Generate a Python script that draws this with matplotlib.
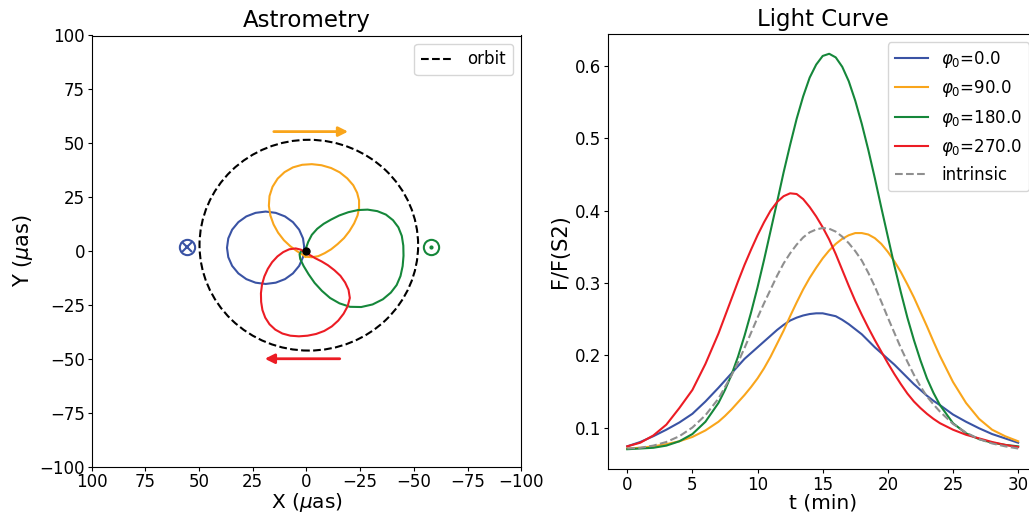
import matplotlib
matplotlib.use("Agg")
import matplotlib.pyplot as plt
from matplotlib.patches import Ellipse
from matplotlib.lines import Line2D

# ---------------- data ----------------
phases = ["0.0", "90.0", "180.0", "270.0"]
colors = ["#3A53A4", "#F9A51B", "#15873A", "#EC1C24"]
intrinsic_color = "#8F8F8F"

# astrometry loops (X, Y in micro-arcsec)
blue_x = [1, 1.6, 3.4, 6.3, 10, 14.3, 19, 23.7, 28, 31.7, 34.6, 36.4, 37, 36.4, 34.6, 31.7, 28,
          23.7, 19, 14.3, 10, 6.3, 3.4, 1.6, 1]
blue_y = [1.5, 5.85, 9.9, 13.4, 16.05, 17.7, 18.3, 17.7, 16.05, 13.4, 9.9, 5.85, 1.5, -2.85, -6.9,
          -10.4, -13.05, -14.7, -15.3, -14.7, -13.05, -10.4, -6.9, -2.85, 1.5]

orange_x = [0.5, -2.5, -5.5, -8.5, -11.5, -14.5, -17.5, -20, -22.2, -23.8, -24.5, -24.5, -23.6,
            -21.8, -19, -15.5, -11.5, -7, -2.5, 2, 6.3, 10.2, 13.4, 15.8, 17.2, 17.5, 16.8, 15.3,
            13.2, 10.5, 7.5, 4.5, 2, 0.5]
orange_y = [-2.6, -2.9, -2.4, -1, 0.8, 3.2, 6, 9.2, 12.8, 16.5, 20, 23.5, 27, 30.5, 33.7, 36.5,
            38.5, 39.8, 40.3, 40, 38.8, 36.6, 33.6, 29.8, 25.5, 21, 16.5, 12.3, 8.5, 5, 2.2, 0,
            -1.6, -2.6]

green_x = [0.5, -0.8, -2.5, -5, -8, -11.5, -15.3, -19.5, -24, -28.5, -33, -37, -40.3, -42.8, -44.4,
           -45.1, -45.2, -44.8, -43.8, -42, -39.3, -35.6, -30.8, -25.5, -20.3, -15.4, -11, -7.2,
           -3.8, -1, 1.3, 2.9, 3.2, 2.4, 0.5]
green_y = [0.5, 4.2, 7.5, 10.3, 12.6, 14.6, 16.5, 18, 19, 19.2, 18.5, 16.9, 14.3, 11, 7, 2.5, -2.2,
           -7, -11.6, -15.8, -19.3, -22.4, -24.8, -26, -25.9, -24.3, -21.8, -18.5, -14.8, -10.8,
           -7, -3.7, -1.5, 0, 0.5]

red_x = [0.5, 2.5, 5, 8, 10.8, 13.5, 16, 18, 19.6, 20.7, 21.2, 21.1, 20.5, 19.2, 17.2, 14.5, 11.2,
         7.5, 3.5, -0.5, -4.5, -8.3, -11.8, -14.8, -17.3, -19.2, -20.2, -19.6, -18, -15.8, -13,
         -10, -7, -4, -1.8, -0.5, 0.5]
red_y = [-1, 0.6, 1.2, 0.8, -0.5, -2.5, -5.2, -8.3, -11.8, -15.6, -19.6, -23.6, -27.4, -30.9, -34,
         -36.5, -38.3, -39.3, -39.6, -39.3, -38.5, -37.1, -35, -32.3, -29.1, -25.6, -21.8, -18,
         -14.6, -11.5, -8.9, -6.6, -4.8, -3.3, -2, -1.3, -1]

loops_x = [blue_x, orange_x, green_x, red_x]
loops_y = [blue_y, orange_y, green_y, red_y]

# orbit ellipse (center, full width/height)
orbit_center = (-1.1, 2.7)
orbit_width = 101.8
orbit_height = 97.8

# direction arrows (start, end)
arrow_top = ((15.2, 55.4), (-19.4, 55.4))
arrow_bottom = ((-15.5, -50.0), (19.4, -50.0))

# observer symbols
sym_in = (55.8, 1.8)
sym_out = (-57.8, 2.0)

# light curves (t in minutes)
t = [0, 1, 2, 3, 4, 5, 6, 7,
     7.5, 8, 8.5, 9, 9.5, 10, 10.5, 11, 11.5, 12, 12.5, 13, 13.5, 14, 14.5, 15, 15.5,
     16, 16.5, 17, 17.5, 18, 18.5, 19, 19.5, 20, 20.5, 21, 21.5, 22, 22.5, 23, 23.5,
     24, 25, 26, 27, 28, 29, 30]
lc_blue = [0.074, 0.080, 0.088, 0.097, 0.107, 0.119, 0.136, 0.155,
           0.165, 0.175, 0.185, 0.195, 0.203, 0.211, 0.219, 0.227, 0.235, 0.242, 0.248, 0.252,
           0.255, 0.257, 0.258, 0.258, 0.256, 0.254, 0.249, 0.243, 0.236, 0.229, 0.220, 0.211,
           0.203, 0.195, 0.187, 0.178, 0.169, 0.160, 0.152, 0.144, 0.137,
           0.131, 0.118, 0.108, 0.099, 0.091, 0.085, 0.079]
lc_orange = [0.071, 0.072, 0.074, 0.077, 0.081, 0.087, 0.096, 0.108,
             0.116, 0.125, 0.135, 0.145, 0.156, 0.168, 0.182, 0.198, 0.216, 0.234, 0.254, 0.273,
             0.291, 0.307, 0.321, 0.334, 0.345, 0.354, 0.361, 0.366, 0.369, 0.369, 0.367, 0.362,
             0.354, 0.343, 0.330, 0.315, 0.298, 0.280, 0.260, 0.240, 0.219,
             0.199, 0.163, 0.134, 0.112, 0.097, 0.088, 0.081]
lc_green = [0.070, 0.071, 0.072, 0.075, 0.081, 0.091, 0.108, 0.134,
            0.152, 0.173, 0.198, 0.227, 0.259, 0.294, 0.332, 0.372, 0.412, 0.453, 0.491, 0.527,
            0.558, 0.584, 0.602, 0.614, 0.617, 0.612, 0.599, 0.579, 0.552, 0.520, 0.484, 0.445,
            0.404, 0.364, 0.324, 0.287, 0.252, 0.221, 0.193, 0.168, 0.148,
            0.131, 0.106, 0.092, 0.084, 0.079, 0.076, 0.074]
lc_red = [0.074, 0.079, 0.089, 0.104, 0.127, 0.152, 0.188, 0.230,
          0.254, 0.278, 0.302, 0.325, 0.346, 0.366, 0.384, 0.400, 0.412, 0.420, 0.424, 0.423,
          0.416, 0.405, 0.392, 0.377, 0.360, 0.340, 0.318, 0.296, 0.275, 0.256, 0.238, 0.221,
          0.205, 0.189, 0.174, 0.160, 0.147, 0.136, 0.127, 0.119, 0.112,
          0.106, 0.097, 0.090, 0.085, 0.080, 0.076, 0.073]
lc_intrinsic = [0.071, 0.072, 0.075, 0.080, 0.088, 0.100, 0.117, 0.140,
                0.156, 0.172, 0.190, 0.210, 0.231, 0.252, 0.272, 0.291, 0.310, 0.327, 0.341,
                0.353, 0.363, 0.370, 0.374, 0.376, 0.375, 0.371, 0.364, 0.355, 0.344, 0.331,
                0.314, 0.295, 0.274, 0.252, 0.231, 0.210, 0.191, 0.173, 0.157, 0.143, 0.132,
                0.122, 0.105, 0.093, 0.084, 0.078, 0.074, 0.071]
light_curves = [lc_blue, lc_orange, lc_green, lc_red]

# ---------------- figure ----------------
plt.rcParams['font.family'] = ['DejaVu Sans']
fig = plt.figure(figsize=(10.29, 5.14), dpi=100)
ax1 = fig.add_axes([91.7 / 1029, (514 - 466.5) / 514, 429.5 / 1029, 431 / 514])
ax2 = fig.add_axes([607.7 / 1029, (514 - 469) / 514, 430 / 1029, 435 / 514])

# ---- Astrometry ----
for xs, ys, c in zip(loops_x, loops_y, colors):
    ax1.plot(xs, ys, color=c, lw=1.5)
ax1.add_patch(Ellipse(orbit_center, orbit_width, orbit_height, fill=False,
                      ls='--', lw=1.5, color='black'))
ax1.plot([0], [0], 'o', color='black', ms=5)

ax1.annotate('', xy=arrow_top[1], xytext=arrow_top[0],
             arrowprops=dict(arrowstyle='-|>', color=colors[1], lw=2, mutation_scale=14,
                             shrinkA=0, shrinkB=0))
ax1.annotate('', xy=arrow_bottom[1], xytext=arrow_bottom[0],
             arrowprops=dict(arrowstyle='-|>', color=colors[3], lw=2, mutation_scale=14,
                             shrinkA=0, shrinkB=0))

ax1.plot([sym_in[0]], [sym_in[1]], 'o', mfc='none', mec=colors[0], ms=11, mew=1.5)
ax1.plot([sym_in[0]], [sym_in[1]], 'x', color=colors[0], ms=7, mew=1.5)
ax1.plot([sym_out[0]], [sym_out[1]], 'o', mfc='none', mec=colors[2], ms=11, mew=1.5)
ax1.plot([sym_out[0]], [sym_out[1]], 'o', color=colors[2], ms=2)

ax1.set_xlim(100, -100)
ax1.set_ylim(-100, 100)
ax1.set_xticks([100, 75, 50, 25, 0, -25, -50, -75, -100])
ax1.set_yticks([-100, -75, -50, -25, 0, 25, 50, 75, 100])
ax1.tick_params(labelsize=12, length=3.1, pad=1.8)
ax1.set_xlabel(r'X ($\mu$as)', fontsize=14.5, labelpad=0)
ax1.set_ylabel(r'Y ($\mu$as)', fontsize=15, labelpad=3)
ax1.set_title('Astrometry', fontsize=16.5)
orbit_handle = Line2D([], [], color='black', ls='--', lw=1.5)
ax1.legend([orbit_handle], ['orbit'], loc='upper right', fontsize=12)

# ---- Light curve ----
for lc, c, p in zip(light_curves, colors, phases):
    ax2.plot(t, lc, color=c, lw=1.5, label=r'$\varphi_0$=' + p)
ax2.plot(t, lc_intrinsic, color=intrinsic_color, ls='--', lw=1.5, label='intrinsic')
ax2.set_xticks([0, 5, 10, 15, 20, 25, 30])
ax2.tick_params(labelsize=12, length=3.1, pad=1.8)
ax2.set_xlabel('t (min)', fontsize=14.5, labelpad=0)
ax2.set_ylabel('F/F(S2)', fontsize=15, labelpad=3)
ax2.set_title('Light Curve', fontsize=16.5)
ax2.legend(loc='upper right', fontsize=12)

fig.savefig('out.png', dpi=100)
